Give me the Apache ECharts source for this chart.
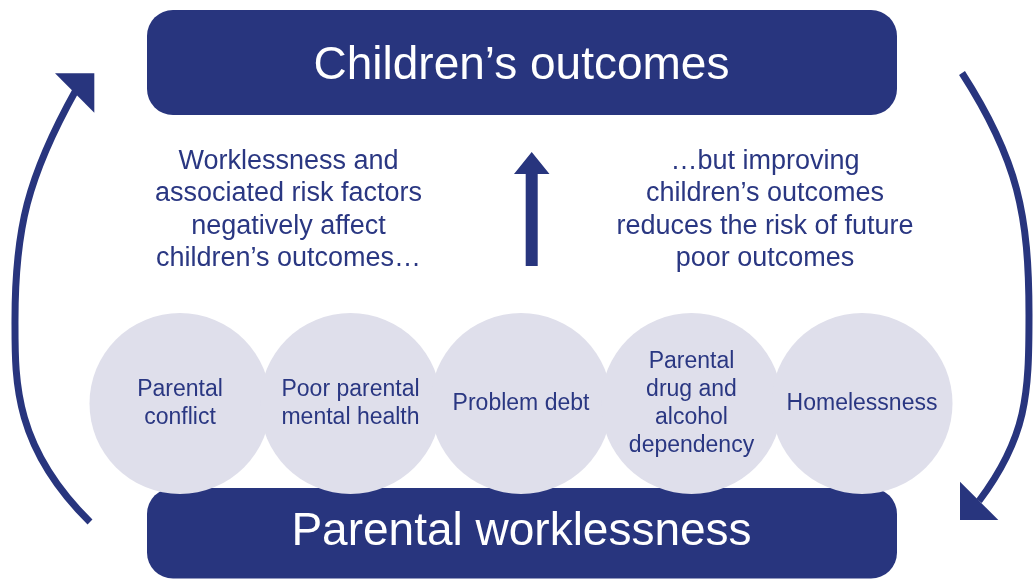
<!DOCTYPE html>
<html>
<head>
<meta charset="utf-8">
<script src="https://cdn.jsdelivr.net/npm/echarts@6/dist/echarts.min.js"></script>
<style>
html,body{margin:0;padding:0;background:#ffffff;}
#main{width:1033px;height:579px;}
</style>
</head>
<body>
<div id="main"></div>
<script>
// ---- data ----
const riskFactors = ['Parental\nconflict', 'Poor parental\nmental health', 'Problem debt', 'Parental\ndrug and\nalcohol\ndependency', 'Homelessness'];
const circleLevels = [1, 1, 1, 1, 1];
const topLabel = 'Children\u2019s outcomes';
const bottomLabel = 'Parental worklessness';
const leftNote = ['Worklessness and', 'associated risk factors', 'negatively affect', 'children\u2019s outcomes\u2026'];
const rightNote = ['\u2026but improving', 'children\u2019s outcomes', 'reduces the risk of future', 'poor outcomes'];

// ---- styles ----
const NAVY = '#28357E';
const TEXT_NAVY = '#2A3782';
const CIRCLE = '#DFDFEB';
const FONT = '"Liberation Sans", Arial, Helvetica, sans-serif';

const chart = echarts.init(document.getElementById('main'), null, { renderer: 'canvas' });

const arrowStroke = { stroke: NAVY, lineWidth: 7, fill: null, lineCap: 'butt' };

const option = {
  animation: false,
  backgroundColor: '#ffffff',
  grid: { left: 94.75, right: 85.75, top: 313, bottom: 85 },
  xAxis: { type: 'category', data: riskFactors, show: false, boundaryGap: true },
  yAxis: { type: 'value', min: 0, max: 2, show: false },
  series: [{
    type: 'scatter',
    data: circleLevels,
    symbol: 'circle',
    symbolSize: 181,
    silent: true,
    z: 3,
    itemStyle: { color: CIRCLE, opacity: 1 },
    emphasis: { disabled: true },
    label: {
      show: true,
      position: 'inside',
      formatter: '{b}',
      color: TEXT_NAVY,
      fontSize: 23,
      lineHeight: 28,
      fontFamily: FONT
    }
  }],
  graphic: [
    // top box
    { type: 'rect', z: 0, shape: { x: 147, y: 10, width: 750, height: 105, r: 26 }, style: { fill: NAVY } },
    { type: 'text', z: 1, x: 521.5, y: 66, style: { text: topLabel, fill: '#ffffff', fontSize: 46, fontFamily: FONT, align: 'center', verticalAlign: 'middle' } },
    // bottom box
    { type: 'rect', z: 0, shape: { x: 147, y: 488, width: 750, height: 90.5, r: 26 }, style: { fill: NAVY } },
    { type: 'text', z: 1, x: 521.5, y: 532, style: { text: bottomLabel, fill: '#ffffff', fontSize: 46, fontFamily: FONT, align: 'center', verticalAlign: 'middle' } },
    // middle notes
    { type: 'text', z: 1, x: 288.5, y: 210, style: { text: leftNote.join('\n'), fill: TEXT_NAVY, fontSize: 27, lineHeight: 32.5, fontFamily: FONT, align: 'center', verticalAlign: 'middle' } },
    { type: 'text', z: 1, x: 765, y: 210, style: { text: rightNote.join('\n'), fill: TEXT_NAVY, fontSize: 27, lineHeight: 32.5, fontFamily: FONT, align: 'center', verticalAlign: 'middle' } },
    // centre up arrow
    { type: 'polygon', z: 1, shape: { points: [[525.7, 266], [537.7, 266], [537.7, 174], [549.5, 174], [531.7, 152], [514, 174], [525.7, 174]] }, style: { fill: NAVY } },
    // left curved arrow
    { type: 'bezierCurve', z: 1, shape: { x1: 90, y1: 522, cpx1: 13, cpy1: 446, cpx2: 15, cpy2: 380, x2: 15, y2: 320 }, style: arrowStroke },
    { type: 'bezierCurve', z: 1, shape: { x1: 15, y1: 320, cpx1: 15, cpy1: 230, cpx2: 27.2, cpy2: 177.3, x2: 76, y2: 90 }, style: arrowStroke },
    { type: 'polygon', z: 1, shape: { points: [[55, 73.3], [94.3, 73.3], [94.3, 112.7]] }, style: { fill: NAVY } },
    // right curved arrow
    { type: 'bezierCurve', z: 1, shape: { x1: 962, y1: 73, cpx1: 1018, cpy1: 160, cpx2: 1029, cpy2: 215, x2: 1029, y2: 315 }, style: arrowStroke },
    { type: 'bezierCurve', z: 1, shape: { x1: 1029, y1: 315, cpx1: 1029, cpy1: 395, cpx2: 1027, cpy2: 437, x2: 979, y2: 501 }, style: arrowStroke },
    { type: 'polygon', z: 1, shape: { points: [[960, 481.7], [960, 520], [998.3, 520]] }, style: { fill: NAVY } }
  ]
};

chart.setOption(option);
</script>
</body>
</html>
